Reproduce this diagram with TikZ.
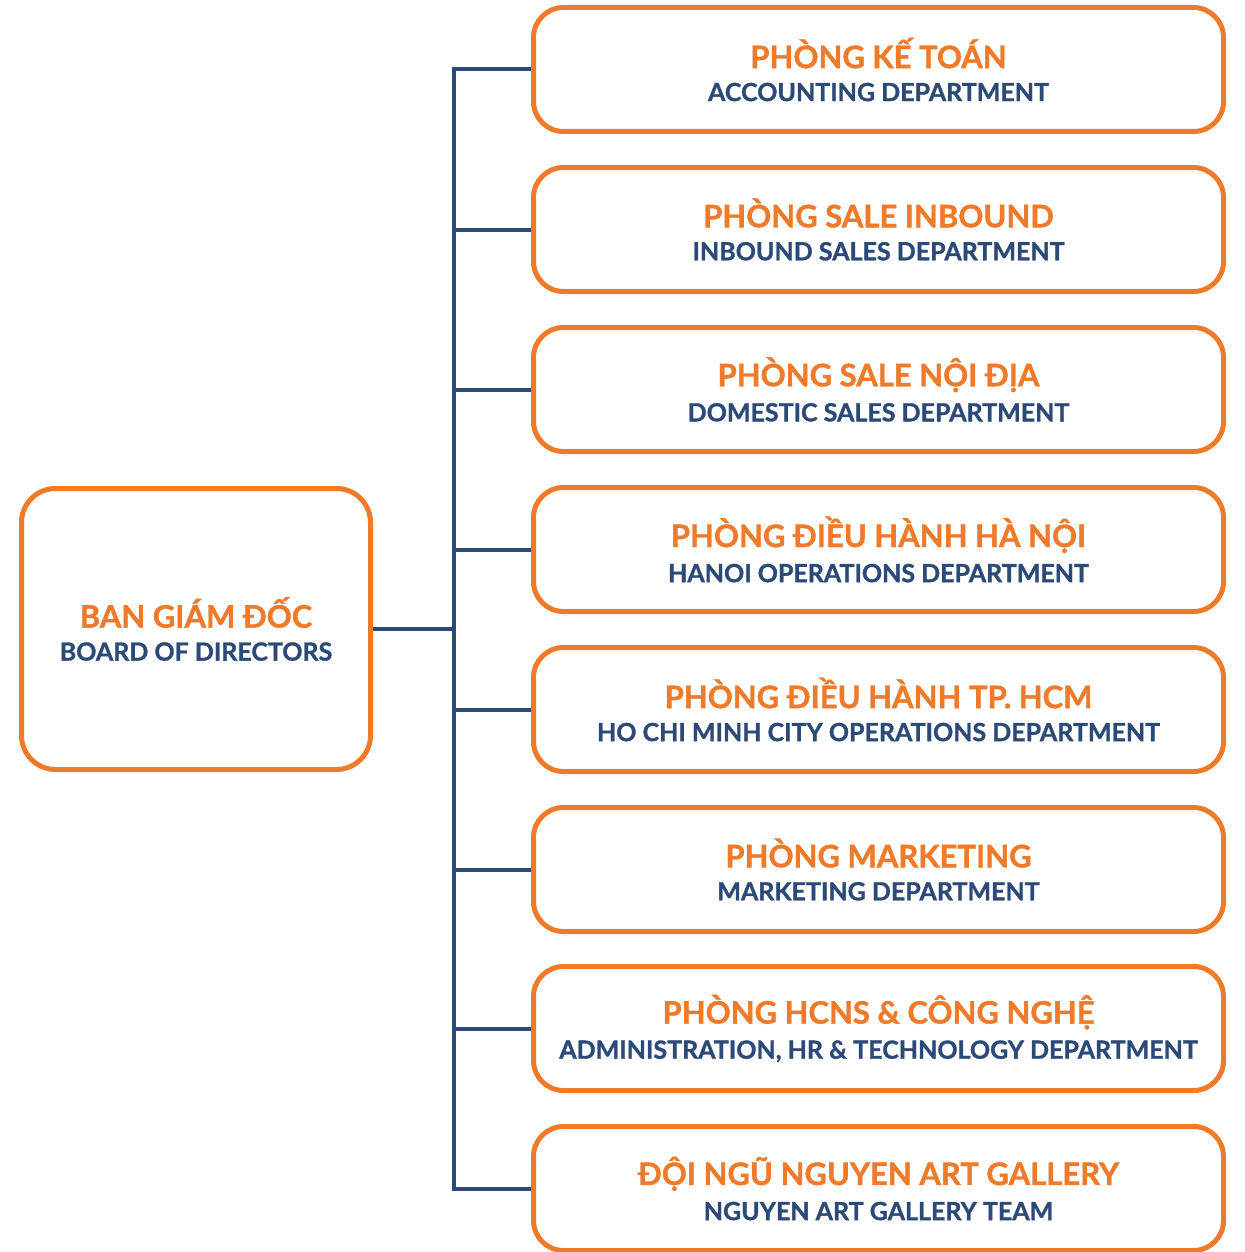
\documentclass[tikz,border=0pt]{standalone}
\usepackage{fontspec}
\setmainfont{Lato}[BoldFeatures={FakeBold=1.2}]
\definecolor{orgc}{HTML}{EE7A2A}
\definecolor{navyc}{HTML}{2B4A78}
\newcommand{\ttl}[1]{{\color{orgc}\fontsize{15.5}{18}\selectfont\bfseries #1}}
\newcommand{\sbt}[1]{{\color{navyc}\fontsize{12.5}{15}\selectfont\bfseries #1}}
\begin{document}
\begin{tikzpicture}[x=0.5pt,y=-0.5pt,
  box/.style={draw=orgc, line width=2.5pt, rounded corners=15pt, fill=white, align=center, inner sep=0pt},
  dept/.style={box, minimum width=345pt, minimum height=62pt},
  board/.style={box, minimum width=174.5pt, minimum height=140.5pt, rounded corners=17pt},
  link/.style={draw=navyc, line width=2pt}]
\useasboundingbox (0,0) rectangle (1244,1252);
\coordinate (trunk) at (454,0);
\node[board] (bod) at (196,629) {\ttl{BAN GIÁM ĐỐC}\\[4.5pt]\sbt{BOARD OF DIRECTORS}};
\node[dept] (d1) at (878.5,69.5) {\ttl{PHÒNG KẾ TOÁN}\\[4.5pt]\sbt{ACCOUNTING DEPARTMENT}};
\node[dept] (d2) at (878.5,229.5) {\ttl{PHÒNG SALE INBOUND}\\[4.5pt]\sbt{INBOUND SALES DEPARTMENT}};
\node[dept] (d3) at (878.5,389.5) {\ttl{PHÒNG SALE NỘI ĐỊA}\\[4.5pt]\sbt{DOMESTIC SALES DEPARTMENT}};
\node[dept] (d4) at (878.5,549.5) {\ttl{PHÒNG ĐIỀU HÀNH HÀ NỘI}\\[4.5pt]\sbt{HANOI OPERATIONS DEPARTMENT}};
\node[dept] (d5) at (878.5,709.5) {\ttl{PHÒNG ĐIỀU HÀNH TP. HCM}\\[4.5pt]\sbt{HO CHI MINH CITY OPERATIONS DEPARTMENT}};
\node[dept] (d6) at (878.5,869.5) {\ttl{PHÒNG MARKETING}\\[4.5pt]\sbt{MARKETING DEPARTMENT}};
\node[dept] (d7) at (878.5,1028.5) {\ttl{PHÒNG HCNS \& CÔNG NGHỆ}\\[4.5pt]\sbt{ADMINISTRATION, HR \& TECHNOLOGY DEPARTMENT}};
\node[dept] (d8) at (878.5,1188.5) {\ttl{ĐỘI NGŨ NGUYEN ART GALLERY}\\[4.5pt]\sbt{NGUYEN ART GALLERY TEAM}};
\draw[link] (d1.west) -- (d1.west -| trunk) -- (d8.west -| trunk) -- (d8.west);
\foreach \i in {2,...,7} \draw[link] (d\i.west -| trunk) -- (d\i.west);
\draw[link] (bod.east) -- (bod.east -| trunk);
\end{tikzpicture}
\end{document}
